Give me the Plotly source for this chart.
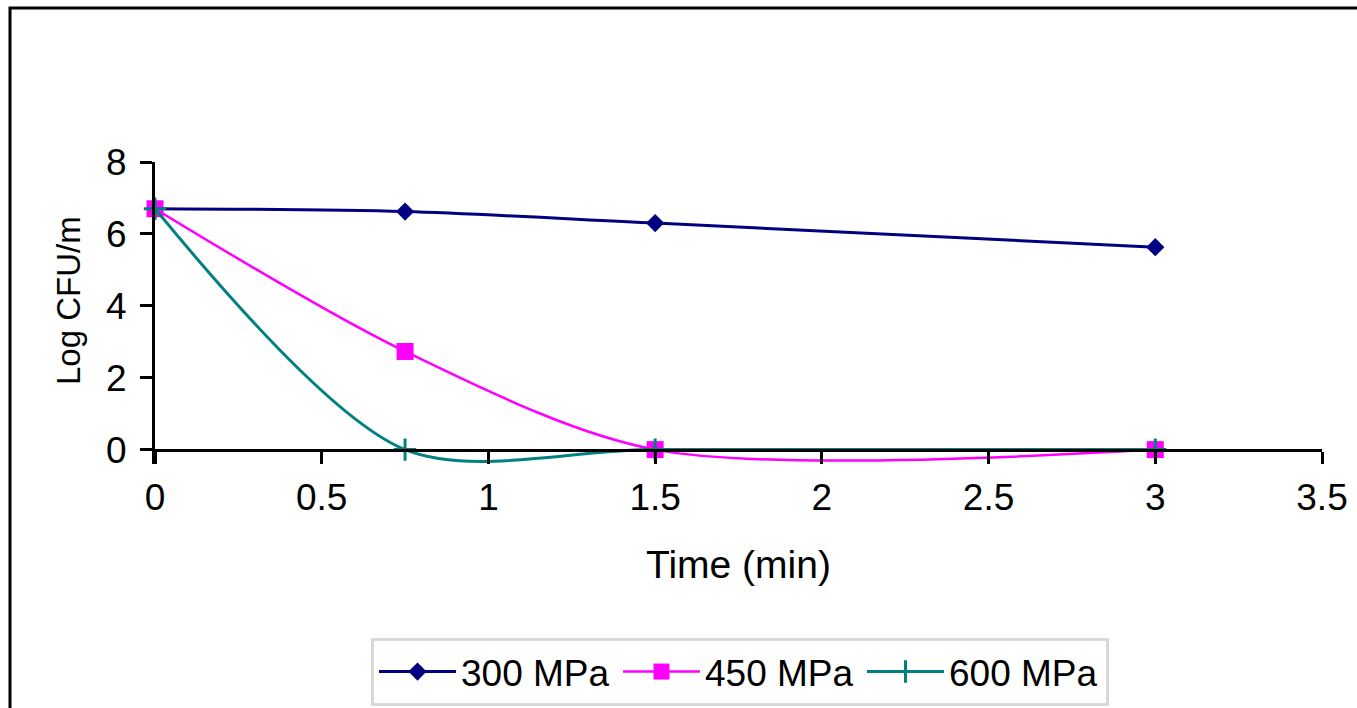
import plotly.graph_objects as go

# ---- data ----
time_min = [0, 0.75, 1.5, 3]
series_names = ["300 MPa", "450 MPa", "600 MPa"]
log_cfu_300 = [6.7, 6.62, 6.3, 5.63]
log_cfu_450 = [6.7, 2.73, 0, 0]
log_cfu_600 = [6.7, 0, 0, 0]
x_ticks = [0, 0.5, 1, 1.5, 2, 2.5, 3, 3.5]
y_ticks = [0, 2, 4, 6, 8]

FONT = "Arial, 'Liberation Sans', sans-serif"
FS = 37
W, H = 1357, 708
L, R, T, B = 155, 35, 162, 244
YMIN, YMAX = -0.4, 8
plot_w = W - L - R
plot_h = H - T - B

fig = go.Figure()
styles = [
    dict(color="#000080", symbol="diamond", size=14, lw=3),
    dict(color="#FF00FF", symbol="square", size=17, lw=2.5),
    dict(color="#008080", symbol="cross-thin", size=16, lw=3),
]
for name, ys, st in zip(series_names, [log_cfu_300, log_cfu_450, log_cfu_600], styles):
    marker = dict(symbol=st["symbol"], size=st["size"], color=st["color"])
    if st["symbol"] == "cross-thin":
        marker["line"] = dict(color=st["color"], width=3)
    fig.add_trace(go.Scatter(
        x=time_min, y=ys, name=name, mode="lines+markers",
        line=dict(color=st["color"], width=st["lw"], shape="spline", smoothing=0.85),
        marker=marker, cliponaxis=False,
    ))

fig.update_layout(
    width=W, height=H,
    margin=dict(l=L, r=R, t=T, b=B, pad=0, autoexpand=False),
    paper_bgcolor="white", plot_bgcolor="white",
    font=dict(family=FONT, size=FS, color="black"),
    showlegend=True,
    legend=dict(
        orientation="h", x=(371 - L) / plot_w, xanchor="left",
        y=(H - B - 638) / plot_h, yanchor="top",
        bordercolor="#d9d9d9", borderwidth=3,
        font=dict(family=FONT, size=FS, color="black"),
        itemwidth=77,
        entrywidth=152, entrywidthmode="pixels",
    ),
    xaxis=dict(
        range=[0, 3.5], tickvals=x_ticks, anchor="free",
        position=(0 - YMIN) / (YMAX - YMIN),
        showline=True, linecolor="black", linewidth=3,
        ticks="outside", ticklen=12, tickwidth=3, tickcolor="black",
        showgrid=False, zeroline=False,
        title=dict(text="Time (min)", font=dict(family=FONT, size=39), standoff=33),
        tickfont=dict(family=FONT, size=FS),
        ticklabelstandoff=2,
    ),
    yaxis=dict(
        range=[YMIN, YMAX], tickvals=y_ticks,
        showline=True, linecolor="black", linewidth=3,
        ticks="outside", ticklen=12, tickwidth=3, tickcolor="black",
        showgrid=False, zeroline=False,
        tickfont=dict(family=FONT, size=FS),
        ticklabelstandoff=6,
    ),
    annotations=[dict(
        text="Log CFU/m", xref="paper", yref="paper",
        x=(68 - L) / plot_w, y=(H - B - 301) / plot_h,
        xanchor="center", yanchor="middle", textangle=-90, showarrow=False,
        font=dict(family=FONT, size=33, color="black"),
    )],
    shapes=[dict(
        type="rect", xref="paper", yref="paper",
        x0=(10 - L) / plot_w, x1=1.3,
        y0=-2, y1=(H - B - 8) / plot_h,
        line=dict(color="black", width=3), layer="below",
    )],
)

fig.write_html("out.html", config={"displayModeBar": False},
               post_script="document.body.style.margin='0';")
